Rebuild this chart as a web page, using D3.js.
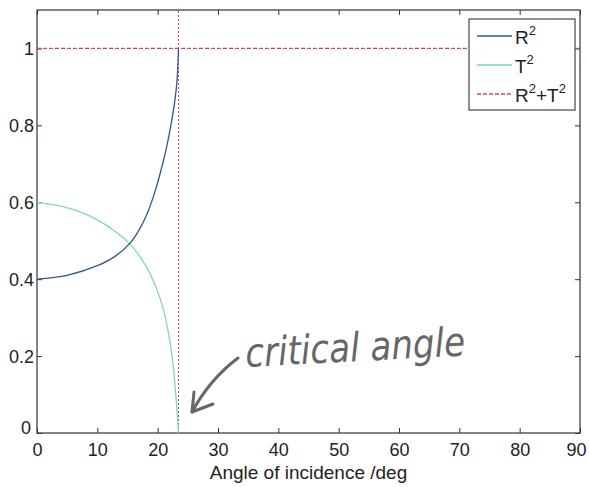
<!DOCTYPE html>
<html>
<head>
<meta charset="utf-8">
<script src="https://cdn.jsdelivr.net/npm/d3@7"></script>
<style>
  html, body { margin: 0; padding: 0; background: #fff; }
  svg { display: block; }
  .tick text { font-family: "Liberation Sans", Arial, sans-serif; font-size: 18px; fill: #222; }
</style>
</head>
<body>
<svg id="chart" width="589" height="487"></svg>
<script>
// Reflection / transmission coefficients vs angle of incidence
const rAngle = [0, 5, 10, 13, 15.5, 17, 18.5, 19.5, 20.5, 21.5, 22.3, 22.9, 23.2, 23.35, 23.45];
const rValue = [0.40, 0.41, 0.435, 0.46, 0.495, 0.53, 0.58, 0.625, 0.68, 0.745, 0.81, 0.87, 0.915, 0.955, 1.0];

const tAngle = [0, 4, 8, 11, 13.3, 15.5, 17, 18.2, 19.3, 20.4, 21.2, 21.8, 22.5, 22.9, 23.2, 23.45];
const tValue = [0.60, 0.59, 0.57, 0.545, 0.52, 0.49, 0.46, 0.43, 0.395, 0.35, 0.305, 0.26, 0.185, 0.12, 0.06, 0.0];

// R^2 + T^2 stays at unity over the whole range
const sumAngle = [0, 90];
const sumValue = [1, 1];

const criticalAngle = 23.45;

const xTicks = [0, 10, 20, 30, 40, 50, 60, 70, 80, 90];
const yTicks = [0, 0.2, 0.4, 0.6, 0.8, 1];

const xLabel = "Angle of incidence /deg";

const svg = d3.select("#chart");
const plotL = 37, plotR = 580, plotT = 10, plotB = 433;

const x = d3.scaleLinear().domain([0, 90]).range([plotL, plotR]);
const y = d3.scaleLinear().domain([0, 1.1]).range([plotB, plotT]);

const axisColor = "#333";
const cR = "#2d5796", cT = "#7fd8b4", cS = "#d8406a";

// plot frame
svg.append("rect")
  .attr("x", plotL).attr("y", plotT)
  .attr("width", plotR - plotL).attr("height", plotB - plotT)
  .attr("fill", "none").attr("stroke", axisColor).attr("stroke-width", 1.2);

// axes with inward ticks
const gx = svg.append("g").attr("transform", `translate(0,${plotB})`)
  .call(d3.axisBottom(x).tickValues(xTicks).tickFormat(d3.format("d"))
    .tickSizeInner(-5).tickSizeOuter(0).tickPadding(10));
const gxTop = svg.append("g").attr("transform", `translate(0,${plotT})`)
  .call(d3.axisTop(x).tickValues(xTicks).tickFormat("")
    .tickSizeInner(-5).tickSizeOuter(0));
const gy = svg.append("g").attr("transform", `translate(${plotL},0)`)
  .call(d3.axisLeft(y).tickValues(yTicks).tickFormat(d => d === 0 ? "0" : d === 1 ? "1" : d3.format(".1f")(d))
    .tickSizeInner(-5).tickSizeOuter(0).tickPadding(3));
const gyRight = svg.append("g").attr("transform", `translate(${plotR},0)`)
  .call(d3.axisRight(y).tickValues(yTicks).tickFormat("")
    .tickSizeInner(-5).tickSizeOuter(0));

[gx, gxTop, gy, gyRight].forEach(g => {
  g.select(".domain").remove();
  g.selectAll(".tick line").attr("stroke", axisColor);
});
// keep the last x label inside the page edge
gx.selectAll(".tick").filter(d => d === 90).select("text").attr("x", -4);
gy.selectAll(".tick text").attr("dy", "0.35em");
// the y-axis zero label sits a little higher than its tick
gy.selectAll(".tick").filter(d => d === 0).select("text").attr("dy", "0.05em").attr("x", -6);

svg.append("text")
  .attr("x", (plotL + plotR) / 2).attr("y", 479)
  .attr("text-anchor", "middle")
  .attr("font-family", "Liberation Sans, Arial, sans-serif")
  .attr("font-size", 19).attr("fill", "#222")
  .text(xLabel);

const line = d3.line().x(d => x(d[0])).y(d => y(d[1]));

// R^2 + T^2 horizontal line
svg.append("path")
  .datum(d3.zip(sumAngle, sumValue))
  .attr("d", line).attr("fill", "none")
  .attr("stroke", cS).attr("stroke-width", 1.2).attr("stroke-dasharray", "4,2");

// vertical marker at the critical angle
svg.append("path")
  .datum([[criticalAngle, 0], [criticalAngle, 1.1]])
  .attr("d", line).attr("fill", "none")
  .attr("stroke", cS).attr("stroke-width", 1.1).attr("stroke-dasharray", "2,2");

const curve = d3.line().x(d => x(d[0])).y(d => y(d[1])).curve(d3.curveCatmullRom.alpha(0.5));

svg.append("path")
  .datum(d3.zip(tAngle, tValue))
  .attr("d", curve).attr("fill", "none")
  .attr("stroke", cT).attr("stroke-width", 1.3);

svg.append("path")
  .datum(d3.zip(rAngle, rValue))
  .attr("d", curve).attr("fill", "none")
  .attr("stroke", cR).attr("stroke-width", 1.3);

// legend
const lg = svg.append("g");
lg.append("rect")
  .attr("x", 469).attr("y", 19).attr("width", 106).attr("height", 91)
  .attr("fill", "#fff").attr("stroke", axisColor).attr("stroke-width", 1.1);

const legendItems = [
  { base: "R", sup: "2", rest: "", color: cR, dash: null },
  { base: "T", sup: "2", rest: "", color: cT, dash: null },
  { base: "R", sup: "2", rest: "+T", sup2: "2", color: cS, dash: "4,2" }
];
legendItems.forEach((it, i) => {
  const cy = 36 + i * 29;
  lg.append("line")
    .attr("x1", 477).attr("x2", 512).attr("y1", cy).attr("y2", cy)
    .attr("stroke", it.color).attr("stroke-width", 1.3)
    .attr("stroke-dasharray", it.dash);
  const t = lg.append("text")
    .attr("x", 515).attr("y", cy + 8)
    .attr("font-family", "Liberation Sans, Arial, sans-serif")
    .attr("font-size", 19).attr("fill", "#222");
  t.append("tspan").text(it.base);
  t.append("tspan").attr("font-size", 13).attr("dy", -9).text(it.sup);
  if (it.rest) {
    t.append("tspan").attr("dy", 9).text(it.rest);
    t.append("tspan").attr("font-size", 13).attr("dy", -9).text(it.sup2);
  }
});

// pencil annotation pointing at the critical angle
const pencil = "#666";
svg.append("text")
  .attr("x", 246).attr("y", 367)
  .attr("transform", "rotate(-3 246 367)")
  .attr("font-family", "DejaVu Sans, sans-serif")
  .attr("font-style", "italic")
  .attr("font-size", 40)
  .attr("textLength", 220)
  .attr("lengthAdjust", "spacingAndGlyphs")
  .attr("fill", pencil)
  .text("critical angle");

svg.append("path")
  .attr("d", "M238,358 C222,370 205,388 192,412")
  .attr("fill", "none").attr("stroke", pencil).attr("stroke-width", 3).attr("stroke-linecap", "round");
svg.append("path")
  .attr("d", "M194,392 L192,412 L213,404")
  .attr("fill", "none").attr("stroke", pencil).attr("stroke-width", 3)
  .attr("stroke-linecap", "round").attr("stroke-linejoin", "round");
</script>
</body>
</html>
